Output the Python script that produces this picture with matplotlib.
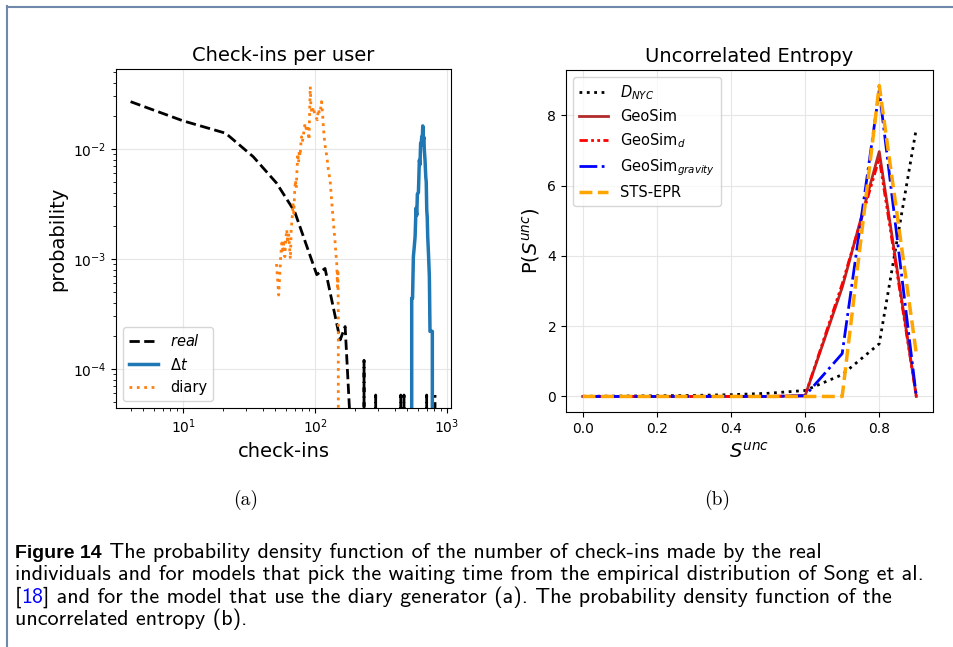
import matplotlib
matplotlib.use("Agg")
import matplotlib.pyplot as plt
from matplotlib.lines import Line2D

W, H = 954, 647

# (a) check-ins per user: real data, waiting-time model, diary model
real_x = [4, 10, 21, 34, 51, 70, 103, 119, 155, 169, 184, 200, 235, 260, 288, 320,
          430, 446, 458, 472, 490, 690, 701, 780, 811]
real_y = [0.0269, 0.018, 0.0139, 0.0085, 0.0049, 0.0027, 0.00072, 0.00082, 0.000184,
          0.000243, 3.5e-5, 0, 1.2e-4, 0, 5.8e-5, 0,
          0, 5.8e-5, 0, 5.8e-5, 0, 0, 5.8e-5, 0, 5.8e-5]

dt_x = [500, 540, 548, 556, 565, 573, 582, 590, 596, 607, 612, 617, 624, 631, 637,
        643, 649, 655, 662, 668, 673, 681, 690, 696, 702, 708, 714, 724, 735, 743,
        758, 774, 790]
dt_y = [0, 4.4e-4, 4.4e-4, 1.05e-3, 1.3e-3, 1.6e-3, 2.9e-3, 2.5e-3, 3.9e-3, 4.0e-3,
        5.6e-3, 7.9e-3, 7.2e-3, 0.0113, 0.0108, 0.0129, 0.0122, 0.0162, 0.0121, 0.0128,
        0.0098, 0.0080, 0.0056, 0.0050, 0.0028, 0.0024, 0.0016, 0.0011, 6.9e-4, 2.2e-4,
        2.2e-4, 2.2e-4, 0]

diary_x = [51, 53, 55, 56, 57, 58, 59, 60, 61, 62, 63, 64, 65, 66, 67, 68, 69, 70,
           71, 72, 73, 74, 75, 76, 77, 78, 79, 80, 82, 84, 86, 88, 90, 91, 92, 93,
           95, 97, 100, 104, 106, 108, 110, 112, 114, 116, 118, 120, 123, 126, 130,
           134, 138, 142, 144, 146, 147, 148, 149, 150, 151]
diary_y = [9.0e-4, 4.7e-4, 1.1e-3, 1.4e-3, 1.2e-3, 1.4e-3, 1.05e-3, 1.5e-3, 1.85e-3,
           1.4e-3, 1.7e-3, 1.3e-3, 1.0e-3, 1.9e-3, 2.3e-3, 3.2e-3, 2.6e-3, 4.0e-3,
           5.2e-3, 4.4e-3, 6.5e-3, 9.1e-3, 7.5e-3, 9.8e-3, 8.6e-3, 1.1e-2, 1.29e-2,
           1.15e-2, 1.4e-2, 1.71e-2, 1.49e-2, 1.6e-2, 1.21e-2, 2.26e-2, 3.69e-2, 2.4e-2,
           2.1e-2, 2.4e-2, 2.0e-2, 1.84e-2, 2.3e-2, 2.1e-2, 2.3e-2, 2.69e-2, 2.1e-2,
           1.49e-2, 1.2e-2, 1.0e-2, 8.5e-3, 6.5e-3, 5.2e-3, 3.2e-3, 2.1e-3, 1.4e-3,
           1.1e-3, 9.1e-4, 7e-4, 5.6e-4, 8e-4, 3e-4, 0]

# (b) uncorrelated entropy
s_unc = [0.0, 0.1, 0.2, 0.3, 0.4, 0.5, 0.6, 0.7, 0.8, 0.9]
d_nyc = [0.005, 0.01, 0.02, 0.03, 0.05, 0.09, 0.17, 0.62, 1.5, 7.63]
geosim = [0, 0, 0, 0, 0, 0, 0.02, 3.1, 6.97, 0]
geosim_d = [0, 0, 0, 0, 0, 0, 0.02, 3.2, 6.78, 0]
geosim_gravity = [0, 0, 0, 0, 0, 0, 0.02, 1.22, 8.71, 0]
sts_epr = [0, 0, 0, 0, 0, 0, 0, 0, 8.85, 1.22]


def fx(px):
    return px / W


def fy(py):
    return 1 - py / H


fig = plt.figure(figsize=(W / 100, H / 100), dpi=100)

# page frame lines
fig.add_artist(Line2D([fx(7.5), fx(7.5)], [fy(6), fy(647)], color="#7088aa", lw=1.5))
fig.add_artist(Line2D([fx(7), fx(954)], [fy(6.5), fy(6.5)], color="#7088aa", lw=1.5))

# left panel
ax1 = fig.add_axes([fx(116), fy(408), (451 - 116) / W, (408 - 69) / H])
ax1.plot(real_x, real_y, color="black", ls="--", lw=2, label="$real$")
ax1.plot(dt_x, dt_y, color="#1f77b4", lw=2.5, label=r"$\Delta t$")
ax1.plot(diary_x, diary_y, color="#ff7f0e", ls=":", lw=2, label="diary")
ax1.set_xscale("log")
ax1.set_yscale("log")
ax1.set_xlim(3.1, 1072)
ax1.set_ylim(4.42e-5, 0.0533)
ax1.grid(True, color="#e6e6e6", lw=0.8)
ax1.set_title("Check-ins per user", fontsize=14)
ax1.set_xlabel("check-ins", fontsize=14)
ax1.set_ylabel("probability", fontsize=14)
ax1.tick_params(labelsize=10)
ax1.legend(loc="lower left", fontsize=10.5)

# right panel
ax2 = fig.add_axes([fx(566), fy(412), (933 - 566) / W, (412 - 70) / H])
ax2.plot(s_unc, d_nyc, color="black", ls=":", lw=2, label="$D_{NYC}$")
ax2.plot(s_unc, geosim, color="#b22a2a", lw=2, label="GeoSim")
ax2.plot(s_unc, geosim_d, color="red", ls=(0, (3, 1.2, 1, 1.2, 1, 1.2)), lw=2,
         label="GeoSim$_d$")
ax2.plot(s_unc, geosim_gravity, color="blue", ls="-.", lw=2, label="GeoSim$_{gravity}$")
ax2.plot(s_unc, sts_epr, color="orange", ls="--", lw=2.5, label="STS-EPR")
ax2.set_xticks([0.0, 0.2, 0.4, 0.6, 0.8])
ax2.set_yticks([0, 2, 4, 6, 8])
ax2.grid(True, color="#e6e6e6", lw=0.8)
ax2.set_title("Uncorrelated Entropy", fontsize=14)
ax2.set_xlabel("$S^{unc}$", fontsize=14)
ax2.set_ylabel("P($S^{unc}$)", fontsize=14)
ax2.tick_params(labelsize=10)
ax2.legend(loc="upper left", fontsize=10.5)

# sub-figure labels
fig.text(fx(246), fy(500), "(a)", family="cmr10", fontsize=14, ha="center", va="center")
fig.text(fx(717), fy(500), "(b)", family="cmr10", fontsize=14, ha="center", va="center")

# caption, drawn run by run
fig.canvas.draw()
renderer = fig.canvas.get_renderer()
cap = dict(family="cmss10", fontsize=15.9)
blue_link = "#0000ff"


def put_runs(x, y, parts):
    for text, kw in parts:
        t = fig.text(fx(x), fy(y), text, ha="left", va="baseline", **kw)
        x += t.get_window_extent(renderer).width


put_runs(15, 558, [
    ("Figure 14", dict(family="Liberation Sans", weight="bold", fontsize=14)),
    (" The probability density function of the number of check-ins made by the real", cap),
])
put_runs(15, 580, [
    ("individuals and for models that pick the waiting time from the empirical "
     "distribution of Song et al.", cap),
])
put_runs(15, 603, [
    ("[", cap),
    ("18", dict(cap, color=blue_link)),
    ("] and for the model that use the diary generator (a). The probability density "
     "function of the", cap),
])
put_runs(15, 625, [("uncorrelated entropy (b).", cap)])

fig.savefig("out.png", dpi=100)
